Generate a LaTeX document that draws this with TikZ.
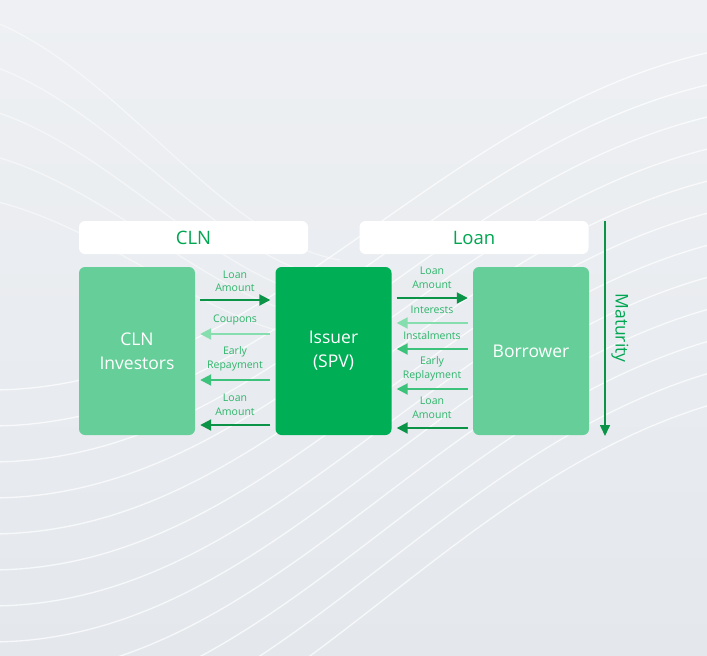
\documentclass[tikz,border=0pt]{standalone}
\usepackage{fontspec}
\setmainfont{Open Sans}
\usetikzlibrary{arrows.meta}
\definecolor{bgtop}{HTML}{EEF0F3}
\definecolor{bgbot}{HTML}{E4E8ED}
\definecolor{lightbox}{HTML}{66CF99}
\definecolor{darkbox}{HTML}{00AE55}
\definecolor{hdrtext}{HTML}{00A651}
\definecolor{adark}{HTML}{0B9447}
\definecolor{amed}{HTML}{3CC27A}
\definecolor{alight}{HTML}{86DDAE}
\definecolor{lbl}{HTML}{2DB56A}
\tikzset{
  hdr/.style={fill=white, rounded corners=6pt, minimum width=229pt, minimum height=33pt, inner sep=0pt,
    text=hdrtext, font=\fontsize{18.5}{20}\selectfont},
  party/.style={rounded corners=6pt, minimum width=116pt, minimum height=168pt, inner sep=0pt,
    text=white, align=center, font=\fontsize{17.5}{24}\selectfont},
  lab/.style={text=lbl, align=center, font=\fontsize{10.5}{13.5}\selectfont, inner sep=0pt},
  flow/.style={line width=2pt, -{Triangle[length=11pt,width=11pt]}},
  wave/.style={white, line width=1.3pt, opacity=0.7}
}
\begin{document}
\begin{tikzpicture}[x=1pt,y=-1pt]
\useasboundingbox (0,0) rectangle (707,656);
\shade[top color=bgtop, bottom color=bgbot] (0,0) rectangle (707,656);
% background waves
\foreach \k in {0,...,11}{
  \draw[wave] (-10,{390+\k*36}) .. controls (270,{390+\k*36}) and (430,{110+\k*34}) .. (720,{50+\k*32});
}
\foreach \k in {0,...,4}{
  \draw[wave, opacity=0.45] (-10,{20+\k*45}) .. controls (120,{70+\k*40}) and (220,{240+\k*25}) .. (340,{260+\k*20});
}
% headers
\node[hdr] (cln) at (193.5,237.5) {CLN};
\node[hdr] (loan) at (474,237.5) {Loan};
% parties
\node[party, fill=lightbox] (inv) at (137,351) {CLN\\Investors};
\node[party, fill=darkbox] (iss) at (333.5,351) {Issuer\\(SPV)};
\node[party, fill=lightbox] (bor) at (531,351) {Borrower};
% maturity
\coordinate (mtop) at (605,221);
\coordinate (mbot) at (605,436);
\draw[adark, line width=1.6pt, -{Triangle[length=11pt,width=10pt]}] (mtop) -- (mbot);
\node[text=hdrtext, rotate=-90, font=\fontsize{17.5}{20}\selectfont] (mat) at (620,328) {Maturity};
% left flows
\draw[flow, adark] ([xshift=5pt]inv.east |- 0,300) -- ([xshift=-5pt]iss.west |- 0,300);
\node[lab] (l1) at (235,281.5) {Loan\\Amount};
\draw[flow, alight] ([xshift=-5pt]iss.west |- 0,334) -- ([xshift=5pt]inv.east |- 0,334);
\node[lab] (l2) at (235,320) {Coupons};
\draw[flow, amed] ([xshift=-5pt]iss.west |- 0,380) -- ([xshift=5pt]inv.east |- 0,380);
\node[lab] (l3) at (235,359) {Early\\Repayment};
\draw[flow, adark] ([xshift=-5pt]iss.west |- 0,425) -- ([xshift=5pt]inv.east |- 0,425);
\node[lab] (l4) at (235,405) {Loan\\Amount};
% right flows
\draw[flow, adark] ([xshift=5pt]iss.east |- 0,298) -- ([xshift=-5pt]bor.west |- 0,298);
\node[lab] (r1) at (432,278) {Loan\\Amount};
\draw[flow, alight] ([xshift=-5pt]bor.west |- 0,323) -- ([xshift=5pt]iss.east |- 0,323);
\node[lab] (r2) at (432,310) {Interests};
\draw[flow, amed] ([xshift=-5pt]bor.west |- 0,349) -- ([xshift=5pt]iss.east |- 0,349);
\node[lab] (r3) at (432,336) {Instalments};
\draw[flow, amed] ([xshift=-5pt]bor.west |- 0,389) -- ([xshift=5pt]iss.east |- 0,389);
\node[lab] (r4) at (432,369) {Early\\Replayment};
\draw[flow, adark] ([xshift=-5pt]bor.west |- 0,428) -- ([xshift=5pt]iss.east |- 0,428);
\node[lab] (r5) at (432,408) {Loan\\Amount};
\end{tikzpicture}
\end{document}
